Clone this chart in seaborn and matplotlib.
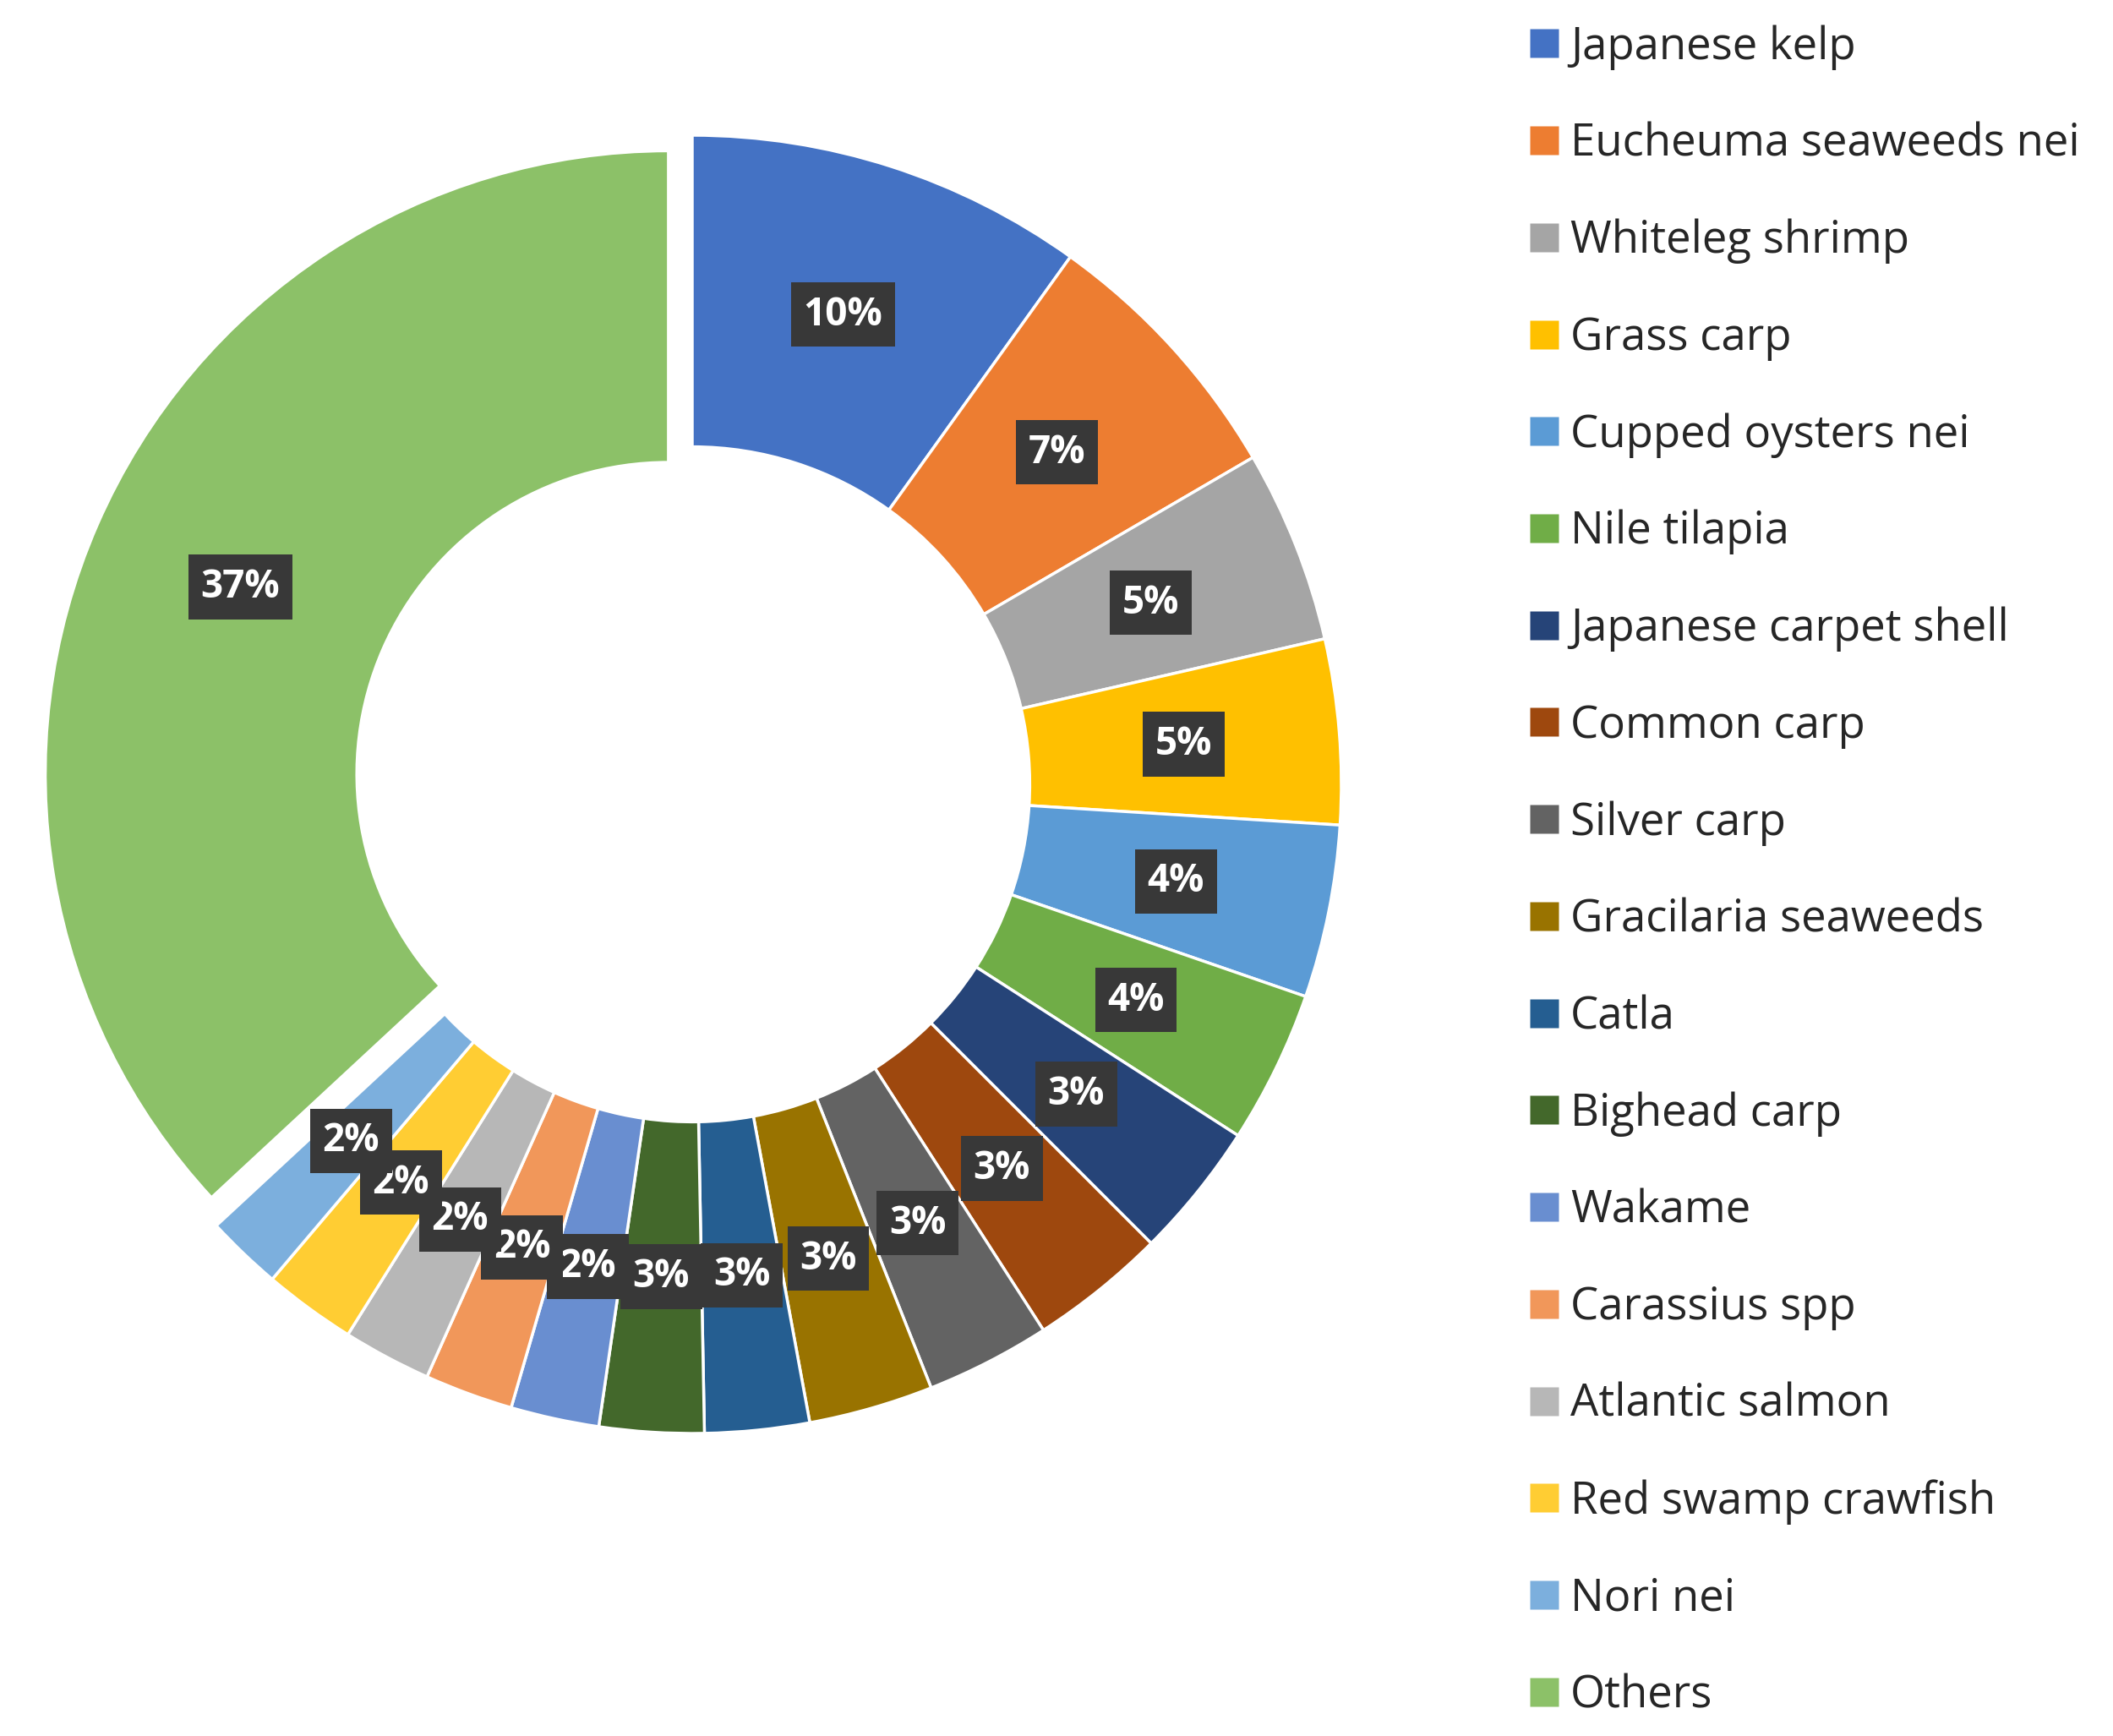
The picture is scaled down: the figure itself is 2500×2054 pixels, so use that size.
import matplotlib
matplotlib.use("Agg")
import matplotlib.pyplot as plt
import numpy as np
import seaborn as sns
from matplotlib.lines import Line2D

species = [
    "Japanese kelp", "Eucheuma seaweeds nei", "Whiteleg shrimp", "Grass carp",
    "Cupped oysters nei", "Nile tilapia", "Japanese carpet shell", "Common carp",
    "Silver carp", "Gracilaria seaweeds", "Catla", "Bighead carp", "Wakame",
    "Carassius spp", "Atlantic salmon", "Red swamp crawfish", "Nori nei", "Others",
]
share = [9.9, 6.7, 4.8, 4.6, 4.3, 3.8, 3.4, 3.4, 3.1, 3.1, 2.6, 2.6,
         2.2, 2.2, 2.2, 2.3, 1.9, 36.9]
hex_colors = [
    "#4472C4", "#ED7D31", "#A5A5A5", "#FFC000", "#5B9BD5", "#70AD47",
    "#264478", "#9E480E", "#636363", "#997300", "#255E91", "#43682B",
    "#698ED0", "#F1975A", "#B7B7B7", "#FFCD33", "#7CAFDD", "#8CC168",
]

sns.set_theme(style="white")
plt.rcParams["font.family"] = ["Open Sans", "DejaVu Sans"]
palette = sns.color_palette(hex_colors)

fig = plt.figure(figsize=(25, 20.54), dpi=100)
lim = 1.069
side = 2 * lim * 768
ax = fig.add_axes([(819 - side / 2) / 2500, (1126 - side / 2) / 2054,
                   side / 2500, side / 2054])

ring = 0.48
explode = [0.0] * (len(share) - 1) + [0.04]
wedges, _, autotexts = ax.pie(
    share,
    colors=palette,
    startangle=90,
    counterclock=False,
    explode=explode,
    autopct="%.0f%%",
    pctdistance=0.76,
    wedgeprops=dict(width=ring, edgecolor="white", linewidth=2.5),
)

# the exploded "Others" ring is drawn a little smaller, as in the source
others = wedges[-1]
others.set_radius(0.96)
others.set_width(0.48)
pos = np.array(autotexts[-1].get_position())
autotexts[-1].set_position(pos * 0.76 / 0.80)

for t in autotexts:
    t.set_color("white")
    t.set_fontsize(33)
    t.set_fontweight("bold")
    t.set_bbox(dict(boxstyle="square,pad=0.32", facecolor="#383838",
                    edgecolor="none"))
ax.set_xlim(-lim, lim)
ax.set_ylim(-lim, lim)
ax.set_aspect("equal")
ax.axis("off")

handles = [Line2D([0], [0], marker="s", linestyle="none", markersize=24,
                  markerfacecolor=c, markeredgecolor="none") for c in palette]
fig.legend(handles, species, loc="upper left",
           bbox_to_anchor=(1784 / 2500, 1 - 3 / 2054),
           frameon=False, fontsize=38, labelspacing=1.16,
           handlelength=0.62, handletextpad=0.28, borderpad=0)

fig.savefig("out.png", dpi=100)
plt.close(fig)
